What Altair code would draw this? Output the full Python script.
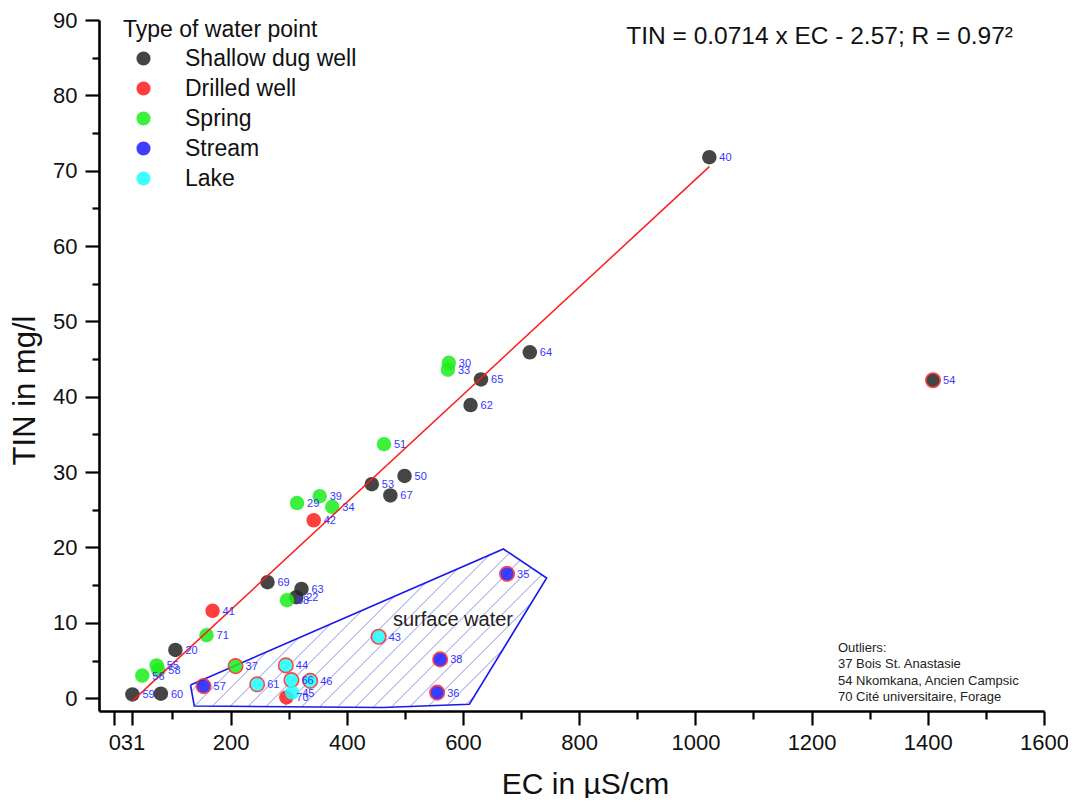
import altair as alt
import pandas as pd
import numpy as np

# ---------------- data ----------------
ids = [59, 60, 20, 69, 63, 22, 53, 67, 50, 62, 65, 64, 40, 54,
       41, 42, 70,
       56, 55, 58, 71, 37, 68, 29, 39, 34, 51, 30, 33,
       57, 38, 36, 35,
       61, 44, 66, 46, 45, 43]
types = (["Shallow dug well"] * 14 + ["Drilled well"] * 3 + ["Spring"] * 12
         + ["Stream"] * 4 + ["Lake"] * 6)
ec = [31, 80, 105, 263.5, 322, 313, 443, 475, 499.4, 613, 631, 715, 1024, 1409,
      169, 343, 296,
      48, 72.7, 75.6, 158.6, 208.5, 297, 314.4, 353.4, 375, 464, 575.6, 574,
      153.5, 560.7, 555.5, 675.8,
      245.7, 295, 304.7, 337, 306, 454.8]
tin = [0.5, 0.6, 6.4, 15.4, 14.5, 13.4, 28.4, 26.9, 29.5, 38.9, 42.3, 45.9, 71.8, 42.2,
       11.6, 23.6, 0.1,
       3.0, 4.35, 3.73, 8.36, 4.26, 13.0, 25.9, 26.8, 25.4, 33.7, 44.5, 43.6,
       1.6, 5.15, 0.74, 16.5,
       1.84, 4.35, 2.4, 2.3, 0.74, 8.15]
outlier_ids = [37, 57, 61, 44, 66, 46, 43, 38, 36, 35, 54]

type_order = ["Shallow dug well", "Drilled well", "Spring", "Stream", "Lake"]
type_colors = ["#262626", "#ff1e1e", "#1eee1e", "#1e1eff", "#1effff"]

# surface water polygon (EC, TIN)
poly_ec = [131, 669.6, 744, 611, 462, 137.5]
poly_tin = [1.75, 19.8, 15.95, -0.8, -1.24, -1.03]

# regression TIN = 0.0714 x EC - 2.57
fit_ec = [31, 1024]
slope, intercept = 0.0714, -2.57

x_domain = [-26.5, 1600]
y_domain = [-1.7, 90]
x_ticks = [0, 31] + list(range(100, 1601, 100))
y_ticks = list(range(0, 91, 5))

W, H = 945, 691
FONT = "Liberation Sans"

# ---------------- tables ----------------
pts = pd.DataFrame({"id": ids, "type": types, "x": ec, "y": tin})
pts["out"] = pts["id"].isin(outlier_ids)
pts["lab"] = pts["id"].astype(str)

fit = pd.DataFrame({"x": fit_ec, "y": [slope * v + intercept for v in fit_ec]})

poly = pd.DataFrame({"x": poly_ec + poly_ec[:1], "y": poly_tin + poly_tin[:1],
                     "o": list(range(len(poly_ec) + 1))})

# hatch segments clipped to the polygon (45 deg in screen space)
sx = W / (x_domain[1] - x_domain[0])
sy = H / (y_domain[1] - y_domain[0])
P = np.array([[(a - x_domain[0]) * sx, (y_domain[1] - b) * sy]
              for a, b in zip(poly_ec, poly_tin)])
s = P[:, 0] + P[:, 1]
segs = []
for c in np.arange(s.min() + 7, s.max(), 18.0):
    hits = []
    n = len(P)
    for i in range(n):
        p, q = P[i], P[(i + 1) % n]
        fp, fq = p.sum() - c, q.sum() - c
        if fp * fq < 0:
            t = fp / (fp - fq)
            hits.append(p + t * (q - p))
    hits.sort(key=lambda h: h[0])
    for k in range(0, len(hits) - 1, 2):
        a, b = hits[k], hits[k + 1]
        segs.append({"x": a[0] / sx + x_domain[0], "y": y_domain[1] - a[1] / sy,
                     "x2": b[0] / sx + x_domain[0], "y2": y_domain[1] - b[1] / sy})
hatch = pd.DataFrame(segs)

# ---------------- scales / axes ----------------
xs = alt.Scale(domain=x_domain, nice=False, zero=False)
ys = alt.Scale(domain=y_domain, nice=False, zero=False)

x_axis = alt.Axis(values=x_ticks,
                  labelExpr="(datum.value % 200 == 0 || datum.value == 31) ? datum.label : ''",
                  tickSize={"expr": "(datum.value % 200 == 100) ? 8 : 14"},
                  labelOverlap=False, labelFlush=False, grid=False,
                  labelPadding=7, titlePadding=16, titleX=486, format="d",
                  titleFontSize=30)
y_axis = alt.Axis(values=y_ticks,
                  labelExpr="(datum.value % 10 == 0) ? datum.label : ''",
                  tickSize={"expr": "(datum.value % 10 == 5) ? 7 : 14"},
                  labelOverlap=False, grid=False, labelPadding=8,
                  titlePadding=11, titleY=370, format="d", titleFontSize=31)


def X(field="x"):
    return alt.X(f"{field}:Q", scale=xs, axis=x_axis, title="EC in µS/cm")


def Y(field="y"):
    return alt.Y(f"{field}:Q", scale=ys, axis=y_axis, title="TIN in mg/l")


hatch_layer = alt.Chart(hatch).mark_rule(color="#8f8fe8", strokeWidth=1).encode(
    x=X(), y=Y(), x2="x2:Q", y2="y2:Q")

poly_layer = alt.Chart(poly).mark_line(color="#1a1aee", strokeWidth=1.6).encode(
    x=X(), y=Y(), order="o:Q")

point_layer = alt.Chart(pts).mark_circle(size=210, opacity=0.86).encode(
    x=X(), y=Y(),
    color=alt.Color("type:N",
                    scale=alt.Scale(domain=type_order, range=type_colors),
                    sort=type_order,
                    legend=alt.Legend(title="Type of water point", orient="none",
                                      legendX=24, legendY=-1, padding=0,
                                      symbolType="circle", symbolSize=200,
                                      symbolOpacity=0.86, symbolStrokeWidth=0,
                                      symbolOffset=9, labelOffset=30,
                                      titleFontSize=23, labelFontSize=23,
                                      titleFont=FONT, labelFont=FONT,
                                      titleLimit=400, labelLimit=400,
                                      titleFontWeight="normal", titleColor="#111",
                                      labelColor="#111", rowPadding=6,
                                      titlePadding=5)),
    stroke=alt.value("#ff2a2a"),
    strokeWidth=alt.condition("datum.out", alt.value(1.6), alt.value(0)),
)

fit_layer = alt.Chart(fit).mark_line(color="#ff1a1a", strokeWidth=1.5).encode(
    x=X(), y=Y())

label_layer = alt.Chart(pts).mark_text(align="left", baseline="middle", dx=10, dy=1,
                                       fontSize=11, font=FONT, color="#3535ff").encode(
    x=X(), y=Y(), text="lab:N")

eq_layer = alt.Chart(pd.DataFrame({"t": ["TIN = 0.0714 x EC - 2.57; R = 0.97²"]})).mark_text(
    align="right", baseline="middle", fontSize=24.5, font=FONT, color="#111").encode(
    x=alt.value(914), y=alt.value(17), text="t:N")

sw_layer = alt.Chart(pd.DataFrame({"t": ["surface water"]})).mark_text(
    align="center", baseline="middle", fontSize=20, font=FONT, color="#222").encode(
    x=alt.value(354), y=alt.value(600), text="t:N")

outl_layer = alt.Chart(pd.DataFrame({"t": [0]})).mark_text(
    align="left", baseline="top", fontSize=13, font=FONT, color="#222", lineHeight=16.3,
    text=["Outliers:", "37 Bois St. Anastasie", "54 Nkomkana, Ancien Campsic",
          "70 Cité universitaire, Forage"]).encode(
    x=alt.value(739), y=alt.value(622))

chart = alt.layer(hatch_layer, poly_layer, point_layer, fit_layer, label_layer,
                  eq_layer, sw_layer, outl_layer).properties(
    width=W, height=H,
    autosize=alt.AutoSizeParams(type="none"),
    padding={"left": 91, "top": 12, "right": 24, "bottom": 87},
    background="white",
).configure_view(stroke=None).configure_axis(
    labelFont=FONT, titleFont=FONT, labelFontSize=22,
    titleFontWeight="normal", labelColor="#111", titleColor="#111",
    domainColor="#000", tickColor="#000", domainWidth=2.6, tickWidth=2.2,
)

chart.save("out.html", embed_options={"renderer": "svg", "actions": False})
